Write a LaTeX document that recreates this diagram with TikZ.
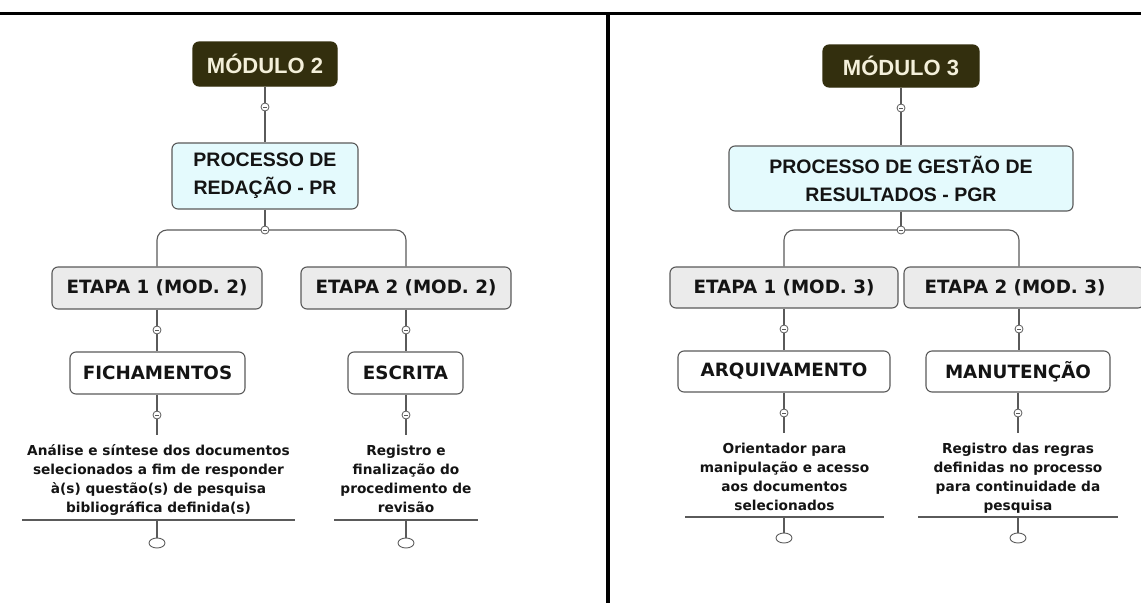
\documentclass[tikz,border=0pt]{standalone}
\usepackage{fontspec}
\usetikzlibrary{shapes.geometric}
\newfontfamily\titlefont{Liberation Sans}
\newfontfamily\verd{DejaVu Sans}
\definecolor{darkbox}{HTML}{332F0E}
\definecolor{titletext}{HTML}{F4F0DA}
\definecolor{cyanfill}{HTML}{E4FAFD}
\definecolor{grayfill}{HTML}{EBEBEB}
\definecolor{linegray}{HTML}{5A5A5A}
\definecolor{txt}{HTML}{141414}
\tikzset{
  mbox/.style={rounded corners=6pt, draw=linegray, line width=1.1pt, align=center, inner sep=0pt, text=txt},
  modbox/.style={mbox, fill=darkbox, draw=darkbox, text=titletext, font=\titlefont\bfseries\fontsize{22}{26}\selectfont},
  procbox/.style={mbox, fill=cyanfill, font=\titlefont\bfseries\fontsize{19.5}{28}\selectfont},
  etapabox/.style={mbox, fill=grayfill, font=\verd\bfseries\fontsize{18.3}{22}\selectfont},
  subbox/.style={mbox, fill=white, font=\verd\bfseries\fontsize{18.3}{22}\selectfont},
  desc/.style={align=center, inner sep=0pt, anchor=south, text=txt, font=\verd\bfseries\fontsize{13.7}{19}\selectfont},
  conn/.style={draw=linegray, line width=1.1pt},
  knob/.style={circle, draw=linegray, fill=white, line width=0.8pt, minimum size=8pt, inner sep=0pt,
    path picture={\draw[linegray, line width=0.6pt] ([xshift=-2pt]path picture bounding box.center) -- ([xshift=2pt]path picture bounding box.center);}},
  endoval/.style={ellipse, draw=linegray, fill=white, line width=0.9pt, minimum width=16pt, minimum height=10pt, inner sep=0pt},
  frame/.style={draw=black}
}
\begin{document}
\begin{tikzpicture}[x=1pt,y=-1pt]
\useasboundingbox (0,0) rectangle (1141,603);
\fill[white] (0,0) rectangle (1141,603);
% frame lines
\coordinate (fl) at (0,13.5);
\coordinate (fr) at (1141,13.5);
\coordinate (ft) at (608,13.5);
\coordinate (fb) at (608,603);
\draw[frame, line width=3.5pt] (fl) -- (fr);
\draw[frame, line width=3.5pt] (ft) -- (fb);

% ===== Left panel =====
\node[modbox, minimum width=144pt, minimum height=44pt] (m2) at (265,64) {MÓDULO 2};
\node[procbox, minimum width=186pt, minimum height=66pt] (pr) at (265,176) {PROCESSO DE\\REDAÇÃO - PR};
\node[etapabox, minimum width=210pt, minimum height=42pt] (e1) at (157,288) {ETAPA 1 (MOD. 2)};
\node[etapabox, minimum width=210pt, minimum height=42pt] (e2) at (406,288) {ETAPA 2 (MOD. 2)};
\node[subbox, minimum width=175pt, minimum height=42pt] (f1) at (157.5,373) {FICHAMENTOS};
\node[subbox, minimum width=115pt, minimum height=42pt] (f2) at (405.5,373) {ESCRITA};
\node[desc] (d1) at (158.5,518) {Análise e síntese dos documentos\\selecionados a fim de responder\\à(s) questão(s) de pesquisa\\bibliográfica definida(s)\strut};
\node[desc] (d2) at (406,518) {Registro e\\finalização do\\procedimento de\\revisão\strut};
\coordinate (ul1a) at (22,520);
\coordinate (ul1b) at (295,520);
\coordinate (um1) at (157,520);
\coordinate (ul2a) at (334,520);
\coordinate (ul2b) at (478,520);
\coordinate (um2) at (406,520);
\coordinate (j1) at (265,230);

\draw[conn] (m2.south) -- (pr.north);
\draw[conn] (pr.south) -- (j1);
\draw[conn, rounded corners=10pt] (j1) -| (e1.north);
\draw[conn, rounded corners=10pt] (j1) -| (e2.north);
\draw[conn] (e1.south) -- (f1.north -| e1.south);
\draw[conn] (e2.south) -- (f2.north -| e2.south);
\draw[conn] (f1.south -| um1) -- (157,435);
\draw[conn] (f2.south -| um2) -- (406,435);
\draw[conn] (ul1a) -- (ul1b);
\draw[conn] (ul2a) -- (ul2b);
\node[endoval] (o1) at (157,543) {};
\node[endoval] (o2) at (406,543) {};
\draw[conn] (um1) -- (o1.north);
\draw[conn] (um2) -- (o2.north);
\node[knob] (k1) at (265,107) {};
\node[knob] (kj1) at (j1) {};
\node[knob] (k2) at (157,330) {};
\node[knob] (k3) at (406,330) {};
\node[knob] (k4) at (157,415) {};
\node[knob] (k5) at (406,415) {};

% ===== Right panel =====
\node[modbox, minimum width=156pt, minimum height=42pt] (m3) at (901,66) {MÓDULO 3};
\node[procbox, minimum width=344pt, minimum height=65pt] (pgr) at (901,178.5) {PROCESSO DE GESTÃO DE\\RESULTADOS - PGR};
\node[etapabox, minimum width=228pt, minimum height=41pt] (e13) at (784,287.5) {ETAPA 1 (MOD. 3)};
\node[etapabox, minimum width=240pt, minimum height=41pt] (e23) at (1024,287.5) {\hspace*{-18pt}ETAPA 2 (MOD. 3)};
\node[subbox, minimum width=212pt, minimum height=41pt] (arq) at (784,371.5) {ARQUIVAMENTO};
\node[subbox, minimum width=184pt, minimum height=41pt] (man) at (1018,371.5) {MANUTENÇÃO};
\node[desc] (d3) at (784.5,516) {Orientador para\\manipulação e acesso\\aos documentos\\selecionados\strut};
\node[desc] (d4) at (1018,516) {Registro das regras\\definidas no processo\\para continuidade da\\pesquisa\strut};
\coordinate (j2) at (901,230);
\coordinate (e23top) at ([xshift=-5pt]e23.north);
\coordinate (ul3a) at (685,517);
\coordinate (ul3b) at (884,517);
\coordinate (um3) at (784,517);
\coordinate (ul4a) at (918,517);
\coordinate (ul4b) at (1118,517);
\coordinate (um4) at (1018,517);

\draw[conn] (m3.south) -- (pgr.north);
\draw[conn] (pgr.south) -- (j2);
\draw[conn, rounded corners=10pt] (j2) -| (e13.north);
\draw[conn, rounded corners=10pt] (j2) -| (e23top);
\draw[conn] (e13.south) -- (arq.north -| e13.south);
\draw[conn] (e23top |- e23.south) -- (e23top |- man.north);
\draw[conn] (arq.south -| um3) -- (784,433);
\draw[conn] (man.south -| um4) -- (1018,433);
\draw[conn] (ul3a) -- (ul3b);
\draw[conn] (ul4a) -- (ul4b);
\node[endoval] (o3) at (784,538) {};
\node[endoval] (o4) at (1018,538) {};
\draw[conn] (um3) -- (o3.north);
\draw[conn] (um4) -- (o4.north);
\node[knob] (k6) at (901,108) {};
\node[knob] (kj2) at (j2) {};
\node[knob] (k7) at (784,329) {};
\node[knob] (k8) at (1019,329) {};
\node[knob] (k9) at (784,413) {};
\node[knob] (k10) at (1018,413) {};
\end{tikzpicture}
\end{document}
